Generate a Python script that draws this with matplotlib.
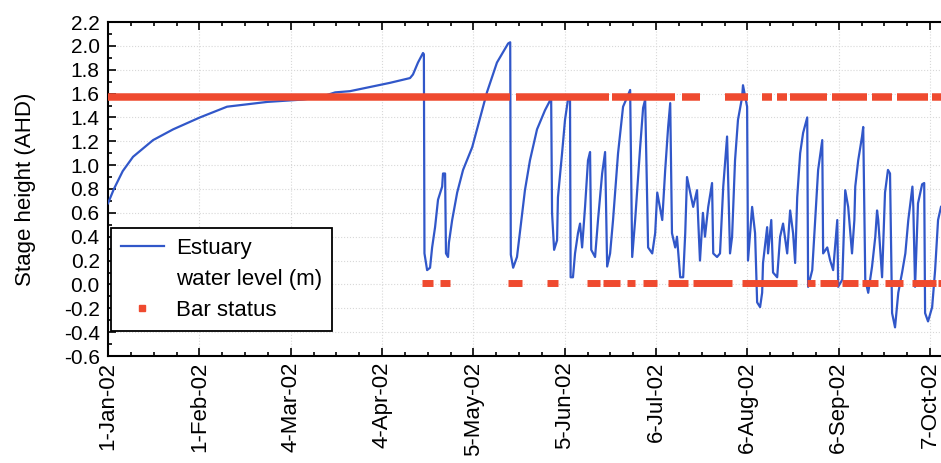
import matplotlib
matplotlib.use('Agg')
import matplotlib.pyplot as plt
from matplotlib.lines import Line2D
from matplotlib.ticker import MultipleLocator, FixedLocator

plt.rcParams['font.family'] = ['Liberation Sans', 'DejaVu Sans']

# days since 1-Jan-02 and estuary water level (m AHD)
level_day = [0, 2, 5, 8.5, 15.3, 22.1, 31.2, 40.4, 54.0, 66.2, 72, 77.1, 82.1, 95.7, 102.5,
             103.5, 105.2, 106.9, 107.2, 107.4, 108.3, 109.3, 110.0, 111.0, 112.0, 113.4,
             113.7, 114.4, 114.7, 115.4, 115.7, 116.8, 118.5, 120.5, 123.6, 126.3, 128.6,
             132.0, 135.8, 136.5, 136.7, 137.5, 138.8, 139.9, 141.5, 143.2, 145.6, 148.3,
             150.4, 150.7, 151.4, 152.4, 152.7, 154.1, 155.1, 156.1, 156.8, 157.0, 157.8,
             158.5, 159.5, 160.2, 160.9, 161.9, 162.9, 163.6, 164.0, 165.3, 166.3, 167.7,
             168.7, 169.4, 170.4, 171.4, 173.1, 174.8, 176.2, 177.2, 177.9, 178.9, 180.6,
             181.6, 182.3, 183.3, 184.7, 185.7, 186.4, 188.1, 189.1, 190.1, 190.8, 191.4,
             192.5, 193.1, 194.2, 195.2, 195.9, 196.5, 197.6, 198.6, 199.9, 200.3, 200.9,
             201.9, 202.6, 203.7, 205.0, 205.4, 206.7, 207.7, 208.8, 210.1, 211.1, 211.8,
             212.8, 213.8, 215.2, 215.5, 216.9, 217.2, 218.6, 219.6, 220.3, 221.3, 222.0,
             222.3, 223.7, 224.0, 225.1, 225.7, 227.1, 228.1, 229.1, 230.5, 231.5, 232.5,
             233.2, 233.9, 234.9, 235.9, 237.3, 237.6, 239.0, 240.0, 241.0, 242.4, 242.7,
             244.1, 245.1, 246.1, 247.5, 247.8, 249.2, 250.2, 251.2, 252.5, 253.3, 253.6,
             254.6, 255.9, 256.3, 257.0, 258.0, 259.3, 260.4, 261.0, 261.4, 262.7, 263.7,
             264.7, 265.4, 266.1, 267.1, 268.2, 269.5, 270.6, 271.6, 273.0, 273.3, 273.9,
             274.9, 276.3, 277.0, 277.3, 278.3, 279.7, 280.7, 281.7, 282.7]
level_m = [0.68, 0.80, 0.95, 1.07, 1.21, 1.30, 1.40, 1.49, 1.53, 1.55, 1.57, 1.61, 1.62, 1.69, 1.73,
           1.76, 1.86, 1.94, 1.93, 0.26, 0.12, 0.14, 0.31, 0.48, 0.71, 0.82,
           0.93, 0.93, 0.26, 0.23, 0.35, 0.54, 0.77, 0.96, 1.15, 1.40, 1.61,
           1.86, 2.02, 2.03, 0.25, 0.14, 0.23, 0.46, 0.79, 1.04, 1.30, 1.46,
           1.56, 0.60, 0.29, 0.37, 0.73, 1.10, 1.38, 1.55, 1.55, 0.06, 0.06,
           0.26, 0.43, 0.51, 0.31, 0.65, 1.04, 1.11, 0.29, 0.23, 0.54, 0.93,
           1.11, 0.15, 0.26, 0.54, 1.10, 1.49, 1.57, 1.63, 0.23, 0.54, 1.15,
           1.48, 1.55, 0.31, 0.26, 0.43, 0.77, 0.54, 0.96, 1.32, 1.52, 0.43,
           0.31, 0.40, 0.06, 0.06, 0.43, 0.90, 0.77, 0.65, 0.79, 0.54, 0.20,
           0.60, 0.40, 0.65, 0.85, 0.26, 0.23, 0.26, 0.82, 1.24, 0.26, 0.40,
           1.04, 1.38, 1.57, 1.67, 1.49, 0.20, 0.65, 0.43, -0.15, -0.19, -0.07,
           0.18, 0.48, 0.26, 0.54, 0.10, 0.06, 0.40, 0.51, 0.26, 0.62, 0.43,
           0.18, 0.73, 1.10, 1.27, 1.40, -0.02, 0.12, 0.54, 0.96, 1.21, 0.26,
           0.31, 0.20, 0.12, 0.54, -0.02, 0.04, 0.79, 0.65, 0.26, 0.54, 0.82,
           1.04, 1.24, 1.32, 0.04, -0.07, 0.15, 0.40, 0.62, 0.54, 0.06, 0.77,
           0.96, 0.93, -0.24, -0.36, -0.07, 0.10, 0.26, 0.54, 0.82, 0.65, -0.02,
           0.68, 0.84, 0.85, -0.24, -0.31, -0.19, 0.12, 0.54, 0.65]

# bar status: periods (start day, end day) drawn at the closed / open level
closed_level = 1.57
open_level = 0.01
closed_periods = [(0, 136.5), (138.3, 170.0), (171.2, 192.5), (194.8, 201.0), (209.4, 217.2),
                  (222.0, 225.4), (227.1, 230.5), (231.5, 244.1), (245.8, 257.6), (259.3, 266.1),
                  (267.8, 278.3), (279.7, 283.5)]
open_periods = [(106.6, 110.3), (112.7, 116.1), (135.8, 140.5), (149.0, 152.7), (162.6, 167.0),
                (168.0, 173.8), (176.2, 178.9), (181.6, 186.4), (190.1, 196.9), (198.6, 211.8),
                (215.3, 233.9), (237.3, 240.0), (241.7, 247.8), (249.2, 254.6), (255.9, 261.4),
                (263.7, 269.9), (272.9, 281.0), (281.7, 283.5)]

tick_days = [0, 31, 62, 93, 124, 155, 186, 217, 248, 279]
tick_labels = ['1-Jan-02', '1-Feb-02', '4-Mar-02', '4-Apr-02', '5-May-02',
               '5-Jun-02', '6-Jul-02', '6-Aug-02', '6-Sep-02', '7-Oct-02']

blue = '#3157c9'
red = '#ef4a2f'

fig = plt.figure(figsize=(9.41, 4.63), dpi=100)
ax = fig.add_axes([108 / 941, 107 / 463, 1 - 108 / 941, 334 / 463])

ax.plot(level_day, level_m, color=blue, linewidth=1.6, zorder=3)
for a, b in closed_periods:
    ax.hlines(closed_level, a, b, color=red, linewidth=5.4, zorder=4)
for a, b in open_periods:
    ax.hlines(open_level, a, b, color=red, linewidth=5.0, zorder=4)

ax.set_xlim(0, 282.7)
ax.set_ylim(-0.6, 2.2)
ax.xaxis.set_major_locator(FixedLocator(tick_days))
ax.xaxis.set_minor_locator(MultipleLocator(31 / 4))
ax.set_xticklabels(tick_labels, rotation=90, fontsize=16)
ax.yaxis.set_major_locator(MultipleLocator(0.2))
ax.yaxis.set_minor_locator(MultipleLocator(0.1))
ax.set_yticklabels([f'{v:.1f}' for v in ax.get_yticks()], fontsize=15)
ax.tick_params(which='both', direction='in', top=True, right=False, width=1.2)
ax.tick_params(which='major', length=6)
ax.tick_params(axis='y', which='major', pad=6)
ax.tick_params(axis='x', which='major', pad=4)
ax.tick_params(which='minor', length=3)
ax.set_ylabel('Stage height (AHD)', fontsize=16, labelpad=20)

ax.grid(True, which='major', color='#d8d8d8', linestyle=':', linewidth=0.8)
ax.set_axisbelow(True)
for s in ['left', 'bottom', 'top']:
    ax.spines[s].set_linewidth(1.5)
ax.spines['right'].set_visible(False)

handles = [Line2D([], [], color=blue, linewidth=1.6),
           Line2D([], [], linestyle='none'),
           Line2D([], [], marker='s', linestyle='none', color=red, markersize=4)]
labels = ['Estuary', 'water level (m)', 'Bar status']
leg = ax.legend(handles, labels, loc='lower left', bbox_to_anchor=(0.004, 0.075),
                fontsize=16, frameon=True, fancybox=False, framealpha=1,
                edgecolor='black', borderpad=0.45, labelspacing=0.45,
                handlelength=1.9, handletextpad=0.55, borderaxespad=0)
leg.get_frame().set_linewidth(1.3)

fig.savefig('out.png', dpi=100)
